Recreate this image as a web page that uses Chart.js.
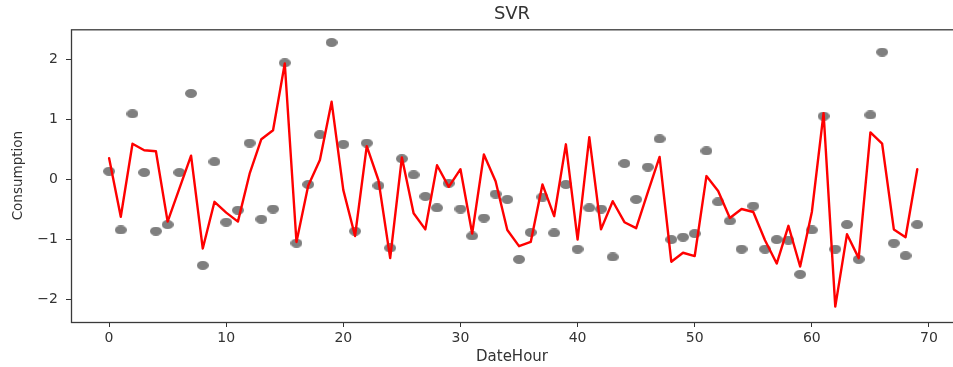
<!DOCTYPE html>
<html>
<head>
<meta charset="utf-8">
<title>SVR</title>
<script src="https://cdn.jsdelivr.net/npm/chart.js@4.4.1/dist/chart.umd.min.js"></script>
<style>
    html, body { margin: 0; padding: 0; background: #fff; overflow: hidden; }
    #chart { display: block; }
</style>
</head>
<body>
<canvas id="chart" width="953" height="367"></canvas>
<script>
// hour index on the x axis
const dateHours = [
    0, 1, 2, 3, 4, 5, 6, 7, 8, 9,
    10, 11, 12, 13, 14, 15, 16, 17, 18, 19,
    20, 21, 22, 23, 24, 25, 26, 27, 28, 29,
    30, 31, 32, 33, 34, 35, 36, 37, 38, 39,
    40, 41, 42, 43, 44, 45, 46, 47, 48, 49,
    50, 51, 52, 53, 54, 55, 56, 57, 58, 59,
    60, 61, 62, 63, 64, 65, 66, 67, 68, 69,
];

// observed consumption (scaled)
const actualConsumption = [
    0.14, -0.84, 1.10, 0.12, -0.86, -0.75, 0.12, 1.44, -1.43, 0.30,
    -0.71, -0.51, 0.61, -0.66, -0.49, 1.95, -1.06, -0.08, 0.75, 2.29,
    0.59, -0.86, 0.61, -0.10, -1.14, 0.35, 0.08, -0.28, -0.47, -0.06,
    -0.49, -0.94, -0.64, -0.24, -0.33, -1.33, -0.88, -0.29, -0.89, -0.08,
    -1.16, -0.47, -0.49, -1.29, 0.27, -0.33, 0.21, 0.68, -1.00, -0.96,
    -0.90, 0.48, -0.37, -0.69, -1.16, -0.44, -1.16, -1.00, -1.01, -1.58,
    -0.84, 1.06, -1.16, -0.75, -1.33, 1.08, 2.13, -1.06, -1.27, -0.75,
];

// SVR prediction
const svrPrediction = [
    0.36, -0.62, 0.60, 0.49, 0.475, -0.70, -0.15, 0.40, -1.15, -0.37,
    -0.55, -0.70, 0.10, 0.675, 0.825, 1.94, -1.04, -0.10, 0.33, 1.30,
    -0.175, -0.94, 0.56, -0.01, -1.31, 0.37, -0.56, -0.83, 0.24, -0.12,
    0.175, -0.90, 0.42, -0.025, -0.84, -1.11, -1.04, -0.08, -0.61, 0.59,
    -1.00, 0.71, -0.83, -0.36, -0.71, -0.81, -0.21, 0.38, -1.37, -1.22,
    -1.275, 0.06, -0.19, -0.64, -0.49, -0.54, -1.01, -1.40, -0.77, -1.45,
    -0.54, 1.11, -2.12, -0.91, -1.31, 0.79, 0.60, -0.83, -0.96, 0.175,
];

const xTickValues = [0, 10, 20, 30, 40, 50, 60, 70];
const yTickValues = [-2, -1, 0, 1, 2];

const FONT = 'DejaVu Sans';
const TEXT_COLOR = '#333';

// slightly flattened grey dot for the scatter markers
function makeDot(w, h, color) {
    const c = document.createElement('canvas');
    c.width = w;
    c.height = h;
    const g = c.getContext('2d');
    g.fillStyle = color;
    g.beginPath();
    g.ellipse(w / 2, h / 2, w / 2, h / 2, 0, 0, Math.PI * 2);
    g.fill();
    return c;
}

const minusFmt = v => (v < 0 ? '\u2212' + Math.abs(v) : String(v));

// box around the plot area, drawn over the data;
// the right side lands just past the canvas edge
const framePlugin = {
    id: 'frame',
    afterDatasetsDraw(chart) {
        const { ctx, chartArea: a } = chart;
        ctx.save();
        ctx.strokeStyle = '#3a3a3a';
        ctx.lineWidth = 1.3;
        ctx.strokeRect(a.left + 0.5, a.top + 0.5, a.right - a.left + 3, a.bottom - a.top);
        ctx.restore();
    },
};

const actualPoints = dateHours.map((h, i) => ({ x: h, y: actualConsumption[i] }));
const predPoints = dateHours.map((h, i) => ({ x: h, y: svrPrediction[i] }));

new Chart(document.getElementById('chart'), {
    type: 'scatter',
    data: {
        datasets: [
            {
                label: 'SVR',
                type: 'line',
                data: predPoints,
                borderColor: '#ff0000',
                borderWidth: 2.4,
                borderJoinStyle: 'round',
                borderCapStyle: 'round',
                pointRadius: 0,
                tension: 0,
                fill: false,
                order: 0,
            },
            {
                label: 'Consumption',
                data: actualPoints,
                pointStyle: makeDot(12, 9, '#7f7f7f'),
                pointRadius: 6,
                order: 1,
            },
        ],
    },
    options: {
        responsive: false,
        animation: false,
        devicePixelRatio: 1,
        layout: { autoPadding: false, padding: 0 },
        plugins: {
            legend: { display: false },
            tooltip: { enabled: false },
            title: {
                display: true,
                text: 'SVR',
                fullSize: false,
                color: TEXT_COLOR,
                font: { family: FONT, size: 18, weight: 'normal' },
                padding: { top: 4, bottom: 3.7 },
            },
        },
        scales: {
            x: {
                type: 'linear',
                min: -3.25,
                max: 72.05,
                afterBuildTicks: s => { s.ticks = xTickValues.map(v => ({ value: v })); },
                afterFit: s => {
                    s.height = 45;
                    s.paddingLeft = 0;
                    s.paddingRight = 0;
                },
                grid: { drawOnChartArea: false, drawTicks: true, tickLength: 5, tickColor: TEXT_COLOR },
                border: { display: false },
                ticks: {
                    color: TEXT_COLOR,
                    font: { family: FONT, size: 14 },
                    padding: 3,
                    autoSkip: false,
                    maxRotation: 0,
                    callback: minusFmt,
                },
                title: {
                    display: true,
                    text: 'DateHour',
                    color: TEXT_COLOR,
                    font: { family: FONT, size: 15 },
                    padding: { top: 0, bottom: 1 },
                },
            },
            y: {
                min: -2.376,
                max: 2.51,
                afterBuildTicks: s => { s.ticks = yTickValues.map(v => ({ value: v })); },
                afterFit: s => {
                    s.width = 71;
                    s.paddingTop = 0;
                    s.paddingBottom = 0;
                },
                grid: { drawOnChartArea: false, drawTicks: true, tickLength: 5, tickColor: TEXT_COLOR },
                border: { display: false },
                ticks: {
                    color: TEXT_COLOR,
                    font: { family: FONT, size: 14 },
                    padding: 8,
                    callback: minusFmt,
                },
                title: {
                    display: true,
                    text: 'Consumption',
                    color: TEXT_COLOR,
                    font: { family: FONT, size: 13.5 },
                    padding: { top: 10.5, bottom: 0 },
                },
            },
        },
    },
    plugins: [framePlugin],
});
</script>
</body>
</html>
